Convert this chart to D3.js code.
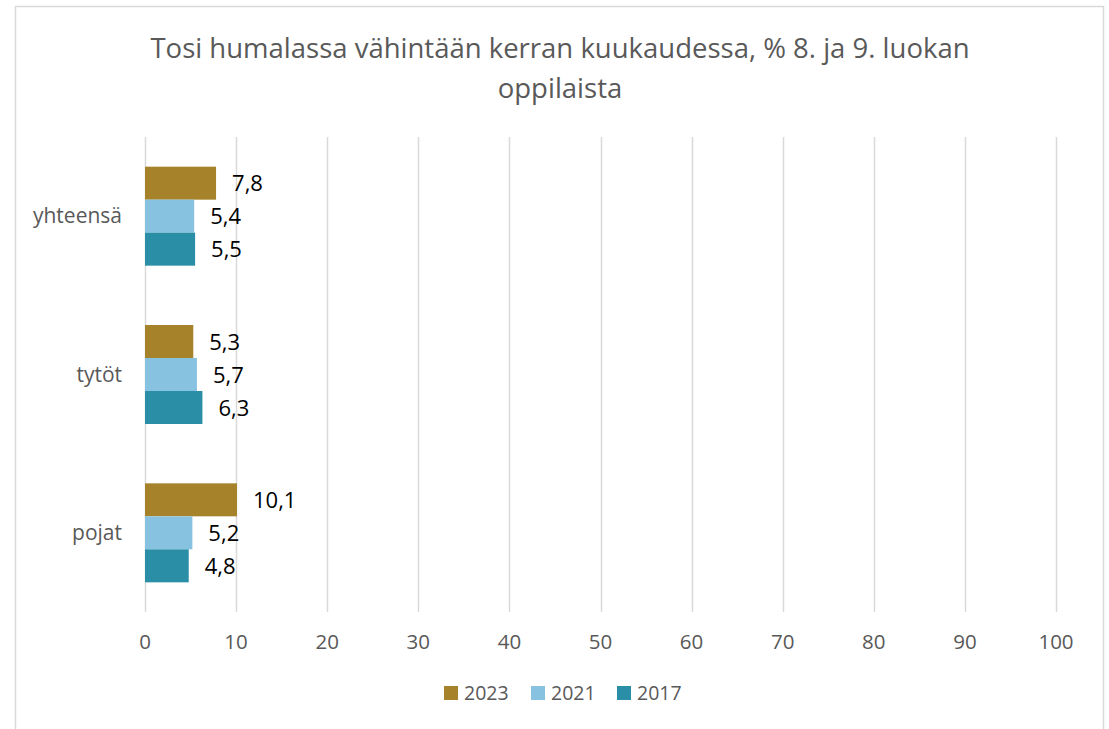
<!DOCTYPE html>
<html>
<head>
<meta charset="utf-8">
<script src="https://cdn.jsdelivr.net/npm/d3@7"></script>
<style>
  body { margin: 0; background: #fff; }
  text { font-family: "Open Sans", "Liberation Sans", sans-serif; }
</style>
</head>
<body>
<div id="chart"></div>
<script>
const titleLines = ['Tosi humalassa vähintään kerran kuukaudessa, % 8. ja 9. luokan', 'oppilaista'];
const categories = ['yhteensä', 'tytöt', 'pojat'];
const series = ['2023', '2021', '2017'];
const values2023 = [7.8, 5.3, 10.1];
const values2021 = [5.4, 5.7, 5.2];
const values2017 = [5.5, 6.3, 4.8];
const xTicks = [0, 10, 20, 30, 40, 50, 60, 70, 80, 90, 100];
const colors = ['#A6832A', '#87C3E0', '#2A8EA6'];

const width = 1109, height = 729;
const margin = { top: 137, right: 53, bottom: 117, left: 145 };

const svg = d3.select('#chart').append('svg')
    .attr('width', width)
    .attr('height', height);

// chart frame
svg.append('rect')
    .attr('x', 15.5).attr('y', 6.5)
    .attr('width', 1088).attr('height', 760)
    .attr('fill', 'none')
    .attr('stroke', '#d9d9d9')
    .attr('stroke-width', 1.5);

const x = d3.scaleLinear()
    .domain([0, 100])
    .range([margin.left, width - margin.right]);

const y = d3.scaleBand()
    .domain(categories)
    .range([margin.top, height - margin.bottom]);

const barH = 33;
const inner = d3.scaleBand()
    .domain(series)
    .range([0, barH * series.length]);
const groupOffset = (y.bandwidth() - barH * series.length) / 2;

// gridlines
svg.append('g')
    .selectAll('line')
    .data(xTicks)
    .join('line')
    .attr('x1', d => Math.round(x(d)) + 0.5)
    .attr('x2', d => Math.round(x(d)) + 0.5)
    .attr('y1', margin.top)
    .attr('y2', height - margin.bottom)
    .attr('stroke', '#d9d9d9')
    .attr('stroke-width', 1.5);

// x tick labels
svg.append('g')
    .selectAll('text')
    .data(xTicks)
    .join('text')
    .attr('x', d => x(d))
    .attr('y', 649)
    .attr('text-anchor', 'middle')
    .attr('font-size', 20.5)
    .attr('fill', '#595959')
    .text(d => d);

// category labels
svg.append('g')
    .selectAll('text')
    .data(categories)
    .join('text')
    .attr('x', 122)
    .attr('y', d => y(d) + y.bandwidth() / 2 + 7)
    .attr('text-anchor', 'end')
    .attr('font-size', 21)
    .attr('fill', '#595959')
    .text(d => d);

const allValues = [values2023, values2021, values2017];
const rows = [];
series.forEach((s, si) => {
    categories.forEach((c, ci) => {
        rows.push({ cat: c, series: s, si: si, value: allValues[si][ci] });
    });
});

svg.append('g')
    .selectAll('rect')
    .data(rows)
    .join('rect')
    .attr('x', x(0))
    .attr('y', d => y(d.cat) + groupOffset + inner(d.series))
    .attr('width', d => x(d.value) - x(0))
    .attr('height', inner.bandwidth())
    .attr('fill', d => colors[d.si]);

svg.append('g')
    .selectAll('text')
    .data(rows)
    .join('text')
    .attr('x', d => x(d.value) + 16)
    .attr('y', d => y(d.cat) + groupOffset + inner(d.series) + inner.bandwidth() / 2 + 8)
    .attr('font-size', 22)
    .attr('fill', '#000')
    .text(d => String(d.value).replace('.', ','));

// title
svg.append('g')
    .selectAll('text')
    .data(titleLines)
    .join('text')
    .attr('x', 560)
    .attr('y', (d, i) => 58 + i * 40)
    .attr('text-anchor', 'middle')
    .attr('font-size', 27.5)
    .attr('fill', '#595959')
    .text(d => d);

// legend
const legendX = [444, 531, 617];
const legend = svg.append('g')
    .selectAll('g')
    .data(series)
    .join('g')
    .attr('transform', (d, i) => `translate(${legendX[i]},686)`);

legend.append('rect')
    .attr('width', 14).attr('height', 14)
    .attr('fill', (d, i) => colors[i]);

legend.append('text')
    .attr('x', 20)
    .attr('y', 14)
    .attr('font-size', 19.5)
    .attr('fill', '#595959')
    .text(d => d);
</script>
</body>
</html>
